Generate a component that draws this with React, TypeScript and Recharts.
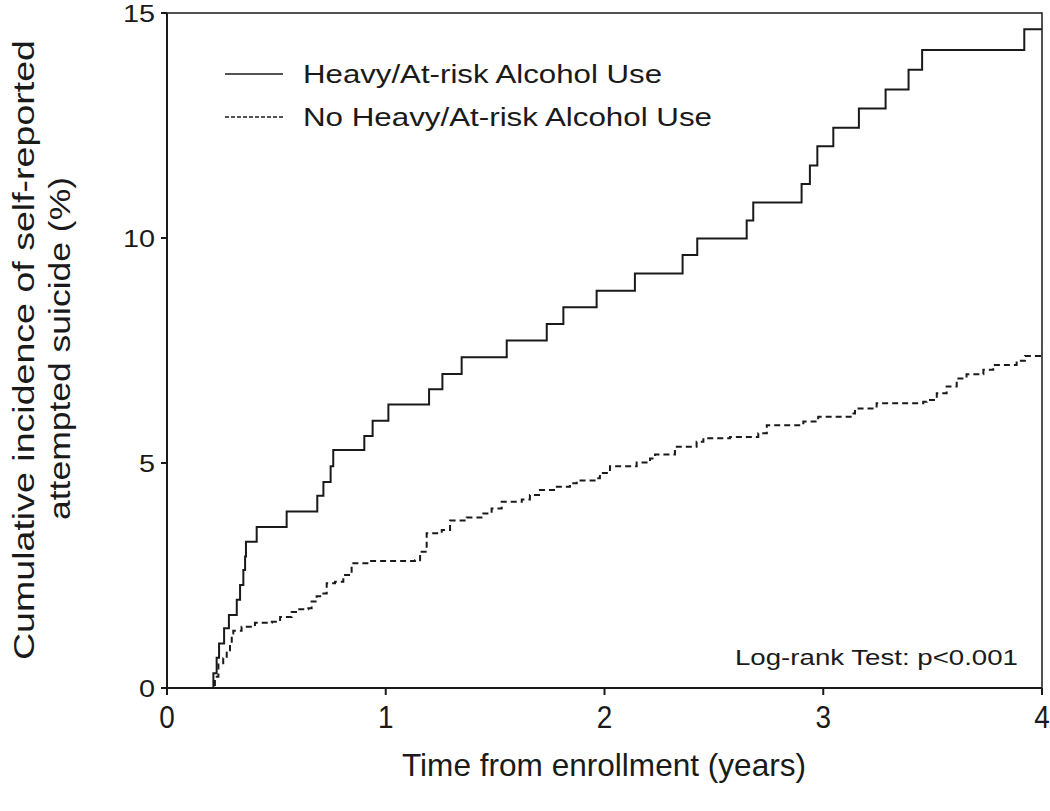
import { LineChart, Line, XAxis, YAxis, ReferenceArea, Customized } from "recharts";

// Heavy/At-risk alcohol use (solid) - step points (years, %)
const heavyT = [0, 0.212, 0.227, 0.238, 0.261, 0.283, 0.319, 0.334, 0.349, 0.357, 0.361, 0.41, 0.547, 0.687, 0.715, 0.748, 0.76, 0.902, 0.94, 1.012, 1.198, 1.259, 1.347, 1.553, 1.736, 1.812, 1.964, 2.139, 2.357, 2.424, 2.65, 2.68, 2.901, 2.939, 2.973, 3.046, 3.163, 3.285, 3.39, 3.452, 3.919, 4.0];
const heavyV = [0, 0.33, 0.67, 0.99, 1.33, 1.62, 1.96, 2.29, 2.62, 2.92, 3.25, 3.58, 3.92, 4.27, 4.58, 4.93, 5.29, 5.6, 5.94, 6.3, 6.64, 6.98, 7.35, 7.72, 8.09, 8.46, 8.83, 9.21, 9.62, 9.99, 10.39, 10.79, 11.2, 11.61, 12.04, 12.45, 12.88, 13.3, 13.74, 14.18, 14.64, 14.64];

// No heavy/at-risk alcohol use (dashed)
const noHeavyT = [0, 0.212, 0.219, 0.235, 0.257, 0.273, 0.288, 0.296, 0.303, 0.341, 0.402, 0.479, 0.517, 0.57, 0.6, 0.646, 0.661, 0.684, 0.715, 0.73, 0.768, 0.806, 0.844, 0.928, 1.134, 1.157, 1.187, 1.256, 1.294, 1.37, 1.446, 1.484, 1.53, 1.622, 1.659, 1.705, 1.774, 1.842, 1.873, 1.964, 1.979, 2.025, 2.147, 2.208, 2.231, 2.322, 2.421, 2.452, 2.574, 2.703, 2.742, 2.909, 2.977, 3.13, 3.145, 3.244, 3.457, 3.473, 3.519, 3.564, 3.61, 3.655, 3.732, 3.777, 3.884, 3.922, 3.991, 4.0];
const noHeavyV = [0, 0, 0.25, 0.55, 0.66, 0.84, 0.99, 1.21, 1.27, 1.36, 1.45, 1.47, 1.58, 1.69, 1.75, 1.77, 1.92, 2.04, 2.1, 2.33, 2.36, 2.51, 2.77, 2.82, 2.84, 3.03, 3.44, 3.51, 3.72, 3.79, 3.88, 3.99, 4.14, 4.19, 4.29, 4.4, 4.47, 4.55, 4.61, 4.66, 4.78, 4.93, 5.01, 5.1, 5.19, 5.36, 5.47, 5.55, 5.58, 5.66, 5.84, 5.92, 6.03, 6.1, 6.21, 6.33, 6.36, 6.4, 6.55, 6.7, 6.88, 6.97, 7.07, 7.18, 7.27, 7.38, 7.45, 7.45];

const xTicks = [0, 1, 2, 3, 4];
const yTicks = [0, 5, 10, 15];

const heavyData = heavyT.map((t, i) => ({ t, v: heavyV[i] }));
const noHeavyData = noHeavyT.map((t, i) => ({ t, v: noHeavyV[i] }));

const FONT = "'Liberation Sans', Arial, sans-serif";
const INK = "#1a1a1a";

const XTick = ({ x, y, payload }: any) => (
  <g transform={`translate(${x},${y})`}>
    <text transform="scale(0.9,1)" textAnchor="middle" dy="0.71em" fontFamily={FONT} fontSize={31} fill={INK}>
      {payload.value}
    </text>
  </g>
);

const YTick = ({ x, y, payload }: any) => (
  <g transform={`translate(${x},${y})`}>
    <text transform="scale(1.2,1)" textAnchor="end" dy="0.36em" fontFamily={FONT} fontSize={24} fill={INK}>
      {payload.value}
    </text>
  </g>
);

// legend, titles and annotation drawn in the svg
const Extras = () => (
  <g fontFamily={FONT} fill={INK}>
    <line x1={225} y1={74} x2={283} y2={74} stroke={INK} strokeWidth={1.5} />
    <text x={303} y={83} fontSize={25} textLength={359} lengthAdjust="spacingAndGlyphs">Heavy/At-risk Alcohol Use</text>
    <line x1={225} y1={117} x2={283} y2={117} stroke={INK} strokeWidth={1.5} strokeDasharray="4 2" />
    <text x={303} y={126} fontSize={25} textLength={409} lengthAdjust="spacingAndGlyphs">No Heavy/At-risk Alcohol Use</text>
    <text x={735} y={665} fontSize={22} textLength={283} lengthAdjust="spacingAndGlyphs">Log-rank Test: p&lt;0.001</text>
    <text x={402} y={776} fontSize={32} textLength={404} lengthAdjust="spacingAndGlyphs">Time from enrollment (years)</text>
    <text transform="translate(34,660) rotate(-90)" fontSize={30} textLength={620} lengthAdjust="spacingAndGlyphs">Cumulative incidence of self-reported</text>
    <text transform="translate(70,520) rotate(-90)" fontSize={30} textLength={343} lengthAdjust="spacingAndGlyphs">attempted suicide (%)</text>
  </g>
);

export default function App() {
  return (
    <div style={{ position: "absolute", left: 0, top: 0, background: "#fff" }}>
      <LineChart width={1050} height={811} margin={{ top: 13, right: 8, left: 0, bottom: 0 }}>
        <XAxis
          type="number"
          dataKey="t"
          domain={[0, 4]}
          ticks={xTicks}
          allowDataOverflow
          height={123}
          tickSize={7}
          tickMargin={11}
          stroke={INK}
          strokeWidth={2}
          tick={<XTick />}
        />
        <YAxis
          type="number"
          dataKey="v"
          domain={[0, 15]}
          ticks={yTicks}
          width={167}
          tickSize={6}
          tickMargin={6}
          stroke={INK}
          strokeWidth={2}
          tick={<YTick />}
        />
        <ReferenceArea x1={0} x2={4} y1={0} y2={15} fill="none" stroke={INK} strokeWidth={1.5} />
        <Line
          data={heavyData}
          dataKey="v"
          type="stepAfter"
          stroke={INK}
          strokeWidth={2}
          dot={false}
          isAnimationActive={false}
        />
        <Line
          data={noHeavyData}
          dataKey="v"
          type="stepAfter"
          stroke={INK}
          strokeWidth={2}
          strokeDasharray="6 4"
          dot={false}
          isAnimationActive={false}
        />
        <Customized component={<Extras />} />
      </LineChart>
    </div>
  );
}
